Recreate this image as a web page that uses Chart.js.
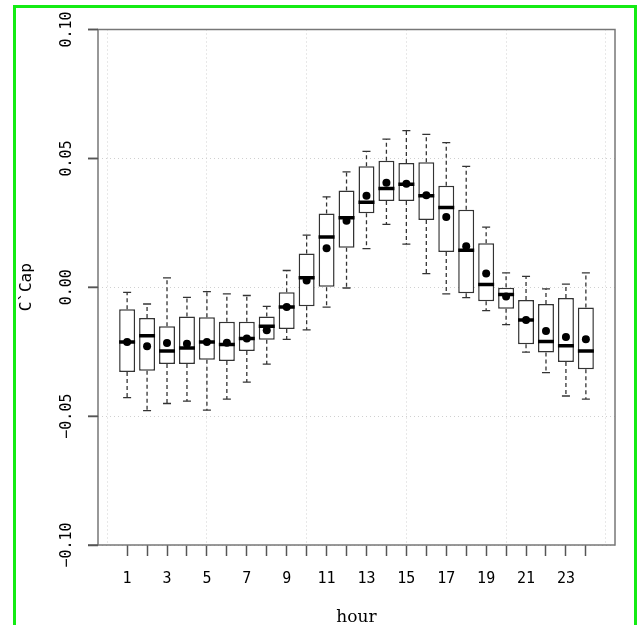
<!DOCTYPE html>
<html>
<head>
<meta charset="utf-8">
<script src="https://cdn.jsdelivr.net/npm/chart.js@4/dist/chart.umd.min.js"></script>
<style>
  html, body { margin: 0; padding: 0; background: #fff; overflow: hidden; }
  #wrap { position: relative; width: 640px; height: 625px; }
  #frame { position: absolute; left: 13px; top: 5px; width: 618px; height: 700px; border: 3px solid rgb(20, 235, 20); box-sizing: content-box; }
  canvas { position: absolute; left: 0; top: 0; }
</style>
</head>
<body>
<div id="wrap">
  <div id="frame"></div>
  <canvas id="chart" width="640" height="625"></canvas>
</div>
<script>
// hourly C`Cap distribution (boxplot stats)
const HOURS = [1, 2, 3, 4, 5, 6, 7, 8, 9, 10, 11, 12, 13, 14, 15, 16, 17, 18, 19, 20, 21, 22, 23, 24];
const W_LO = [-0.0428, -0.0479, -0.0451, -0.0442, -0.0477, -0.0434, -0.0368, -0.0298, -0.0202, -0.0165, -0.0077, -0.0003,
              0.0150, 0.0244, 0.0167, 0.0053, -0.0026, -0.0040, -0.0091, -0.0145, -0.0252, -0.0331, -0.0422, -0.0434];
const Q1 = [-0.0329, -0.0324, -0.0298, -0.0298, -0.0281, -0.0286, -0.0247, -0.0204, -0.0162, -0.0074, 0.0000, 0.0153,
            0.0287, 0.0335, 0.0335, 0.0261, 0.0137, -0.0023, -0.0054, -0.0083, -0.0221, -0.0253, -0.0290, -0.0318];
const MEDIAN = [-0.0212, -0.0188, -0.0247, -0.0236, -0.0212, -0.0222, -0.0199, -0.0151, -0.0077, 0.0037, 0.0195, 0.0270,
                0.0330, 0.0383, 0.0400, 0.0355, 0.0309, 0.0144, 0.0011, -0.0028, -0.0127, -0.0210, -0.0227, -0.0247];
const Q3 = [-0.0085, -0.0119, -0.0151, -0.0113, -0.0116, -0.0134, -0.0134, -0.0113, -0.0019, 0.0131, 0.0286, 0.0375,
            0.0469, 0.0491, 0.0482, 0.0485, 0.0394, 0.0301, 0.0171, 0.0000, -0.0049, -0.0065, -0.0042, -0.0079];
const W_HI = [-0.0020, -0.0065, 0.0036, -0.0039, -0.0017, -0.0026, -0.0032, -0.0074, 0.0065, 0.0202, 0.0351, 0.0448,
              0.0527, 0.0575, 0.0608, 0.0593, 0.0561, 0.0469, 0.0233, 0.0056, 0.0042, -0.0006, 0.0012, 0.0056];
const MEAN = [-0.0212, -0.0229, -0.0216, -0.0219, -0.0212, -0.0215, -0.0199, -0.0167, -0.0077, 0.0026, 0.0151, 0.0258,
              0.0355, 0.0405, 0.0402, 0.0357, 0.0273, 0.0159, 0.0053, -0.0036, -0.0127, -0.0170, -0.0193, -0.0202];
const Y_TICKS = [-0.10, -0.05, 0.00, 0.05, 0.10];
const X_GRID = [0, 5, 10, 15, 20, 25];

const INK = '#333';
const AXIS = '#555';
const GRID = '#d0d0d0';
const CLEAR = 'rgba(0,0,0,0)';
const TICK_FONT = { family: '"DejaVu Sans Mono", monospace', size: 15 };

// whisker segments, broken by null so each hour is its own dashed line
const whisker = (ends, box) => HOURS.flatMap((h, i) => [{ x: h, y: box[i] }, { x: h, y: ends[i] }, { x: h, y: null }]);
const caps = HOURS.flatMap((h, i) => [{ x: h, y: W_LO[i] }, { x: h, y: W_HI[i] }]);
const tickVal = c => (c.tick ? c.tick.value : NaN);

// R-style box frame plus the left tick marks
const framePlugin = {
  id: 'frame',
  beforeDatasetsDraw(chart) {
    const { ctx, chartArea: a, scales: { y } } = chart;
    ctx.save();
    ctx.strokeStyle = '#777';
    ctx.lineWidth = 1.5;
    ctx.strokeRect(a.left, a.top, a.right - a.left, a.bottom - a.top);
    ctx.strokeStyle = AXIS;
    ctx.beginPath();
    Y_TICKS.forEach(v => {
      const py = y.getPixelForValue(v);
      ctx.moveTo(a.left - 10, py);
      ctx.lineTo(a.left, py);
    });
    ctx.stroke();
    ctx.restore();
  }
};

new Chart(document.getElementById('chart'), {
  type: 'bar',
  plugins: [framePlugin],
  data: {
    datasets: [
      {
        type: 'scatter', label: 'mean',
        data: HOURS.map((h, i) => ({ x: h, y: MEAN[i] })),
        pointStyle: 'circle', pointRadius: 4, backgroundColor: '#000', borderWidth: 0
      },
      {
        type: 'scatter', label: 'median',
        data: HOURS.map((h, i) => ({ x: h, y: MEDIAN[i] })),
        pointStyle: 'line', pointRadius: 8, borderColor: '#000', pointBorderWidth: 3.5
      },
      {
        type: 'bar', label: 'box',
        data: HOURS.map((h, i) => ({ x: h, y: [Q1[i], Q3[i]] })),
        backgroundColor: '#fff', borderColor: INK, borderWidth: 1.5, borderSkipped: false,
        barPercentage: 0.8, categoryPercentage: 1
      },
      {
        type: 'scatter', label: 'caps',
        data: caps,
        pointStyle: 'line', pointRadius: 4, borderColor: INK, pointBorderWidth: 1.3
      },
      {
        type: 'line', label: 'upper whisker',
        data: whisker(W_HI, Q3),
        borderColor: INK, borderWidth: 1.3, borderDash: [4, 3], pointRadius: 0, spanGaps: false, fill: false
      },
      {
        type: 'line', label: 'lower whisker',
        data: whisker(W_LO, Q1),
        borderColor: INK, borderWidth: 1.3, borderDash: [4, 3], pointRadius: 0, spanGaps: false, fill: false
      }
    ]
  },
  options: {
    responsive: false,
    animation: false,
    events: [],
    layout: { padding: { left: 0, top: 29.5, right: 25, bottom: 0 } },
    plugins: { legend: { display: false }, tooltip: { enabled: false } },
    scales: {
      x: {
        type: 'linear',
        min: -0.46, max: 25.46,
        offset: false,
        afterBuildTicks: s => { s.ticks = Array.from({ length: 26 }, (_, v) => ({ value: v })); },
        afterFit: s => { s.height = 80; },
        ticks: {
          autoSkip: false, minRotation: 0, maxRotation: 0,
          color: '#000', font: TICK_FONT, padding: 14,
          callback: v => (HOURS.includes(v) && v % 2 === 1) ? String(v) : ''
        },
        grid: {
          offset: false,
          color: c => X_GRID.includes(tickVal(c)) ? GRID : CLEAR,
          tickColor: c => HOURS.includes(tickVal(c)) ? AXIS : CLEAR,
          tickBorderDash: [],
          lineWidth: 1, tickWidth: 1.5, tickLength: 11
        },
        border: { display: false, dash: [1, 3] },
        title: {
          display: true, text: 'hour', color: '#000',
          font: { family: '"DejaVu Serif", serif', size: 17, lineHeight: 1 },
          padding: { top: 0, bottom: -1.5 }
        }
      },
      y: {
        type: 'linear',
        min: -0.1, max: 0.1,
        afterBuildTicks: s => { s.ticks = Y_TICKS.map(v => ({ value: v })); },
        afterFit: s => { s.width = 98; },
        ticks: {
          autoSkip: false, minRotation: 90, maxRotation: 90, crossAlign: 'center',
          color: '#000', font: TICK_FONT, padding: -1.6,
          callback: v => v.toFixed(2).replace('-', '\u2212')
        },
        grid: {
          offset: false, color: GRID, lineWidth: 1,
          tickColor: AXIS, tickBorderDash: [], tickWidth: 1.5, tickLength: 10
        },
        border: { display: false, dash: [1, 3] },
        title: {
          display: true, text: 'C`Cap', color: '#000',
          font: { family: '"DejaVu Sans Mono", monospace', size: 16 },
          padding: { top: 17, bottom: 0 }
        }
      }
    }
  }
});
</script>
</body>
</html>
